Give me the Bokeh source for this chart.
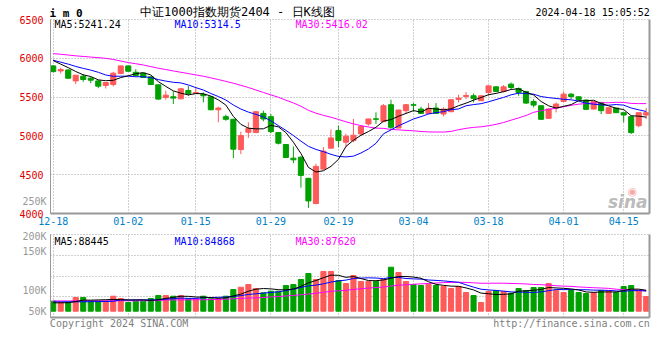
from bokeh.plotting import figure
from bokeh.models import ColumnDataSource, FixedTicker, LinearAxis, Label, Range1d
from bokeh.layouts import column
from bokeh.embed import file_html
from bokeh.resources import INLINE

# ---------------- data ----------------
dates = ["12-18", "12-19", "12-20", "12-21", "12-22", "12-25", "12-26", "12-27", "12-28", "12-29",
         "01-02", "01-03", "01-04", "01-05", "01-08", "01-09", "01-10", "01-11", "01-12",
         "01-15", "01-16", "01-17", "01-18", "01-19", "01-22", "01-23", "01-24", "01-25", "01-26",
         "01-29", "01-30", "01-31", "02-01", "02-02", "02-05", "02-06", "02-07", "02-08",
         "02-19", "02-20", "02-21", "02-22", "02-23", "02-26", "02-27", "02-28", "02-29", "03-01",
         "03-04", "03-05", "03-06", "03-07", "03-08", "03-11", "03-12", "03-13", "03-14", "03-15",
         "03-18", "03-19", "03-20", "03-21", "03-22", "03-25", "03-26", "03-27", "03-28", "03-29",
         "04-01", "04-02", "04-03", "04-08", "04-09", "04-10", "04-11", "04-12",
         "04-15", "04-16", "04-17", "04-18"]

opens = [5902, 5837, 5850, 5709, 5769, 5743, 5709, 5650, 5662, 5803,
         5902, 5820, 5808, 5761, 5658, 5496, 5504, 5478, 5585, 5548,
         5534, 5504, 5337, 5248, 5214, 4824, 5047, 5043, 5290, 5248,
         5043, 4889, 4713, 4726, 4453, 4128, 4572, 4842, 5068, 4919,
         4940, 5026, 5154, 5220, 5184, 5402, 5102, 5325, 5402, 5346,
         5290, 5359, 5282, 5312, 5470, 5508, 5517, 5453, 5560, 5632,
         5573, 5667, 5611, 5573, 5444, 5389, 5226, 5359, 5444, 5538,
         5504, 5462, 5346, 5432, 5290, 5359, 5299, 5248, 5132, 5269]
highs = [5915, 5880, 5855, 5785, 5795, 5760, 5715, 5692, 5825, 5906,
         5906, 5859, 5812, 5769, 5662, 5581, 5573, 5620, 5645, 5624,
         5560, 5510, 5376, 5273, 5220, 5055, 5175, 5320, 5325, 5282,
         5050, 4895, 4863, 4735, 4460, 4641, 4855, 5081, 5132, 5026,
         5218, 5132, 5220, 5303, 5410, 5466, 5340, 5410, 5423, 5376,
         5423, 5423, 5367, 5470, 5530, 5564, 5547, 5521, 5645, 5640,
         5654, 5688, 5624, 5573, 5474, 5393, 5350, 5432, 5573, 5551,
         5508, 5470, 5450, 5432, 5367, 5363, 5299, 5252, 5299, 5359]
lows = [5816, 5803, 5740, 5667, 5697, 5680, 5615, 5611, 5637, 5795,
        5830, 5761, 5748, 5655, 5466, 5466, 5410, 5470, 5517, 5547,
        5432, 5330, 5175, 5196, 4713, 4765, 4974, 5035, 5188, 5034,
        4890, 4718, 4649, 4333, 4072, 4120, 4560, 4840, 4855, 4855,
        4919, 5004, 5132, 5154, 5175, 5090, 5095, 5282, 5312, 5282,
        5282, 5282, 5252, 5305, 5432, 5474, 5432, 5449, 5517, 5570,
        5560, 5602, 5517, 5410, 5367, 5205, 5220, 5303, 5432, 5474,
        5460, 5335, 5340, 5282, 5285, 5295, 5175, 5026, 5111, 5218]
closes = [5829, 5855, 5743, 5782, 5727, 5718, 5641, 5688, 5808, 5902,
          5833, 5778, 5752, 5662, 5474, 5525, 5487, 5607, 5547, 5560,
          5517, 5337, 5359, 5214, 4829, 5004, 5094, 5312, 5218, 5055,
          4906, 4722, 4692, 4491, 4162, 4607, 4803, 4974, 4940, 4996,
          5008, 5120, 5218, 5214, 5389, 5111, 5333, 5402, 5395, 5290,
          5355, 5290, 5346, 5466, 5487, 5521, 5483, 5517, 5645, 5573,
          5632, 5624, 5560, 5423, 5397, 5214, 5346, 5410, 5538, 5508,
          5466, 5342, 5444, 5325, 5363, 5299, 5269, 5043, 5299, 5299]
volumes = [42400, 38100, 38100, 57900, 57900, 42400, 42400, 42400, 63500, 53600,
           36700, 42400, 42400, 53600, 66300, 66300, 63500, 66300, 52200, 52200,
           63500, 52200, 52200, 63500, 91800, 101600, 112900, 96000, 77600, 84700,
           84700, 108700, 112900, 134100, 159500, 134100, 168000, 168000, 129900, 117200,
           151000, 125600, 125600, 125600, 134100, 186300, 163800, 125600, 112900, 108700,
           112900, 108700, 104500, 96000, 104500, 79100, 66300, 36700, 83300, 87500,
           83300, 76200, 96000, 87500, 100200, 100200, 117200, 87500, 79100, 87500,
           79100, 74800, 79100, 87500, 87500, 79100, 104500, 108700, 87500, 62100]

# moving-average values on the first bars (their windows start before the chart)
ma5_head = [5970, 5925, 5880, 5830]
ma10_head = [5975, 5950, 5925, 5895, 5870, 5848, 5820, 5785, 5768]
ma30_head = [6060, 6052, 6042, 6032, 6024, 6016, 6008, 6000, 5985, 5965,
             5945, 5930, 5914, 5893, 5872, 5855, 5837, 5820, 5803, 5786,
             5769, 5748, 5726, 5703, 5679, 5652, 5624, 5592, 5560]
vma5_head = [35500, 35500, 36000, 41000]
vma10_head = [39500, 39500, 39500, 39800, 40000, 40300, 40600, 41000, 42000]
vma30_head = [43500, 43500, 43500, 43800, 43800, 43800, 44000, 44000, 44000, 44200,
              44200, 44200, 44500, 44500, 45000, 47500, 48000, 48000, 48200, 48500,
              48500, 49000, 50000, 51000, 52500, 54000, 55500, 56500, 58000]

tick_labels = ["12-18", "01-02", "01-15", "01-29", "02-19", "03-04", "03-18", "04-01", "04-15"]
price_ticks = [4000, 4500, 5000, 5500, 6000, 6500]
price_grid = [4500, 5000, 5500, 6000]
# the volume scale labels sit where the source chart prints them
vol_tick_values = [0, 87700, 252800, 316300]
vol_tick_labels = ["50K", "100K", "150K", "200K"]
vol_top_label_at_price = 4158   # "250K" is printed beside the price panel
vol_top_label = "250K"

header_code = "i m 0"
header_title = "中证1000指数期货2404 - 日K线图"
header_time = "2024-04-18 15:05:52"
footer_left = "Copyright 2024 SINA.COM"
footer_right = "http://finance.sina.com.cn"
price_ma_texts = ["MA5:5241.24", "MA10:5314.5", "MA30:5416.02"]
vol_ma_texts = ["MA5:88445", "MA10:84868", "MA30:87620"]

# ---------------- helpers ----------------
FONT = "DejaVu Sans Mono"
RED = "#ff5a5a"
GREEN = "#00a000"
GRID = "#a0a0a0"
DASH = "1 2"
AXIS = "#999999"
MA_COLORS = ["black", "#0000ff", "#ff00ff"]


def moving(vals, n, head):
    out = []
    for i in range(len(vals)):
        if i >= n - 1:
            out.append(sum(vals[i - n + 1:i + 1]) / n)
        else:
            out.append(head[i])
    return out


n = len(closes)
idx = list(range(n))
tick_idx = [dates.index(d) for d in tick_labels]
colors = [RED if c > o else GREEN for o, c in zip(opens, closes)]
src = ColumnDataSource(dict(
    x=idx, o=opens, h=highs, l=lows, c=closes,
    top=[max(o, c) for o, c in zip(opens, closes)],
    bottom=[min(o, c) for o, c in zip(opens, closes)],
    color=colors, vol=volumes))

ma5 = moving(closes, 5, ma5_head)
ma10 = moving(closes, 10, ma10_head)
ma30 = moving(closes, 30, ma30_head)
vma5 = moving(volumes, 5, vma5_head)
vma10 = moving(volumes, 10, vma10_head)
vma30 = moving(volumes, 30, vma30_head)

x_range = Range1d(-0.36, n - 0.56)


def label(fig, x, y, text, color="black", size="10px", align="left", font=FONT, style="normal", alpha=1.0):
    fig.add_layout(Label(x=x, y=y, x_units="screen", y_units="screen", text=text,
                         text_color=color, text_font_size=size, text_align=align,
                         text_baseline="middle", text_font=font, text_font_style=style,
                         text_alpha=alpha))


def text_axis(ticks, labels, color="black", size="10px", style="normal", standoff=0,
              line_color=None, line_width=1):
    return LinearAxis(ticker=FixedTicker(ticks=ticks),
                      major_label_overrides={t: s for t, s in zip(ticks, labels)},
                      axis_line_color=line_color, axis_line_width=line_width,
                      major_tick_line_color=None, minor_tick_line_color=None,
                      major_tick_out=0, major_tick_in=0, minor_tick_out=0, minor_tick_in=0,
                      major_label_standoff=standoff, major_label_text_color=color,
                      major_label_text_font=FONT, major_label_text_font_size=size,
                      major_label_text_font_style=style)


def style_axis(ax, color, standoff, line_color=AXIS, line_width=1):
    ax.axis_line_color = line_color
    ax.axis_line_width = line_width
    ax.major_tick_line_color = None
    ax.minor_tick_line_color = None
    ax.major_tick_out = 0
    ax.minor_tick_out = 0
    ax.major_label_text_color = color
    ax.major_label_text_font = FONT
    ax.major_label_text_font_size = "10px"
    ax.major_label_standoff = standoff


# ---------------- price panel ----------------
p = figure(width=652, height=230, x_range=x_range, y_range=Range1d(4000, 6500),
           output_backend="svg", toolbar_location=None,
           min_border_left=50, min_border_right=3, min_border_top=19, min_border_bottom=17)
p.outline_line_color = GRID
p.outline_line_dash = DASH

xa = p.xaxis[0]                       # date labels under the price panel
xa.ticker = FixedTicker(ticks=tick_idx)
xa.major_label_overrides = {i: d for i, d in zip(tick_idx, tick_labels)}
style_axis(xa, "#0080c8", 3, line_width=2)

ya = p.yaxis[0]                       # inner left axis: the grey "250K"
ya.ticker = FixedTicker(ticks=[vol_top_label_at_price])
ya.major_label_overrides = {vol_top_label_at_price: vol_top_label}
style_axis(ya, "#999999", 4)
# outer left axis: red price labels, pulled back next to the frame
p.add_layout(text_axis(price_ticks, [str(t) for t in price_ticks], color="#e00000",
                       standoff=-24), "left")
p.add_layout(text_axis([], [], line_color=AXIS, line_width=2), "right")

# header line (three stacked 'above' axes sharing one row)
p.add_layout(text_axis([71.86], [header_time], standoff=2), "above")
p.add_layout(text_axis([1.70], [header_code], size="11px", style="bold", standoff=-16), "above")
p.add_layout(text_axis([24.54], [header_title], size="12px", standoff=-15), "above")

p.xgrid.ticker = FixedTicker(ticks=tick_idx)
p.ygrid.ticker = FixedTicker(ticks=price_grid)
for g in (p.xgrid, p.ygrid):
    g.grid_line_color = GRID
    g.grid_line_dash = DASH

p.segment(x0="x", y0="h", x1="x", y1="l", color="color", line_width=1, source=src)
p.vbar(x="x", width=0.68, top="top", bottom="bottom", fill_color="color",
       line_color="color", line_width=1, source=src)
p.line(idx, ma30, line_color=MA_COLORS[2], line_width=1)
p.line(idx, ma10, line_color=MA_COLORS[1], line_width=1)
p.line(idx, ma5, line_color=MA_COLORS[0], line_width=1)

for k, t in enumerate(price_ma_texts):
    label(p, [4, 124, 245][k], 189.5, t, color=MA_COLORS[k])
label(p, 582, 22, "\u25c9", color="#f07070", size="11px", align="center",
      font="DejaVu Sans", alpha=0.6)
label(p, 597, 12, "sina", color="#a8a8a8", size="17px", align="right",
      font="DejaVu Sans", style="bold italic", alpha=0.8)

# ---------------- volume panel ----------------
vmin, vmax = -26700, 324800
v = figure(width=652, height=103, x_range=x_range, y_range=Range1d(vmin, vmax),
           output_backend="svg", toolbar_location=None,
           min_border_left=50, min_border_right=3, min_border_top=4, min_border_bottom=16)
v.outline_line_color = GRID
v.outline_line_dash = DASH

va = v.xaxis[0]                       # footer texts under the volume panel
footer_ticks = [8.78, 69.04]
va.ticker = FixedTicker(ticks=footer_ticks)
va.major_label_overrides = {t: s for t, s in zip(footer_ticks, [footer_left, footer_right])}
style_axis(va, "#808080", 0, line_width=2)

vy = v.yaxis[0]
vy.ticker = FixedTicker(ticks=vol_tick_values)
vy.major_label_overrides = {t: s for t, s in zip(vol_tick_values, vol_tick_labels)}
style_axis(vy, "#999999", 4)
v.add_layout(text_axis([], [], line_color=AXIS, line_width=2), "right")

v.xgrid.ticker = FixedTicker(ticks=tick_idx)
v.ygrid.ticker = FixedTicker(ticks=[vmin + (vmax - vmin) * k / 4 for k in (1, 2, 3)])
for g in (v.xgrid, v.ygrid):
    g.grid_line_color = GRID
    g.grid_line_dash = DASH

v.vbar(x="x", width=0.68, top="vol", bottom=0, fill_color="color",
       line_color="color", line_width=1, source=src)
v.line(idx, vma30, line_color=MA_COLORS[2], line_width=1)
v.line(idx, vma10, line_color=MA_COLORS[1], line_width=1)
v.line(idx, vma5, line_color=MA_COLORS[0], line_width=1)

for k, t in enumerate(vol_ma_texts):
    label(v, [4, 124, 245][k], 76.5, t, color=MA_COLORS[k])

layout = column(p, v)
open("out.html", "w").write(file_html(layout, INLINE))
